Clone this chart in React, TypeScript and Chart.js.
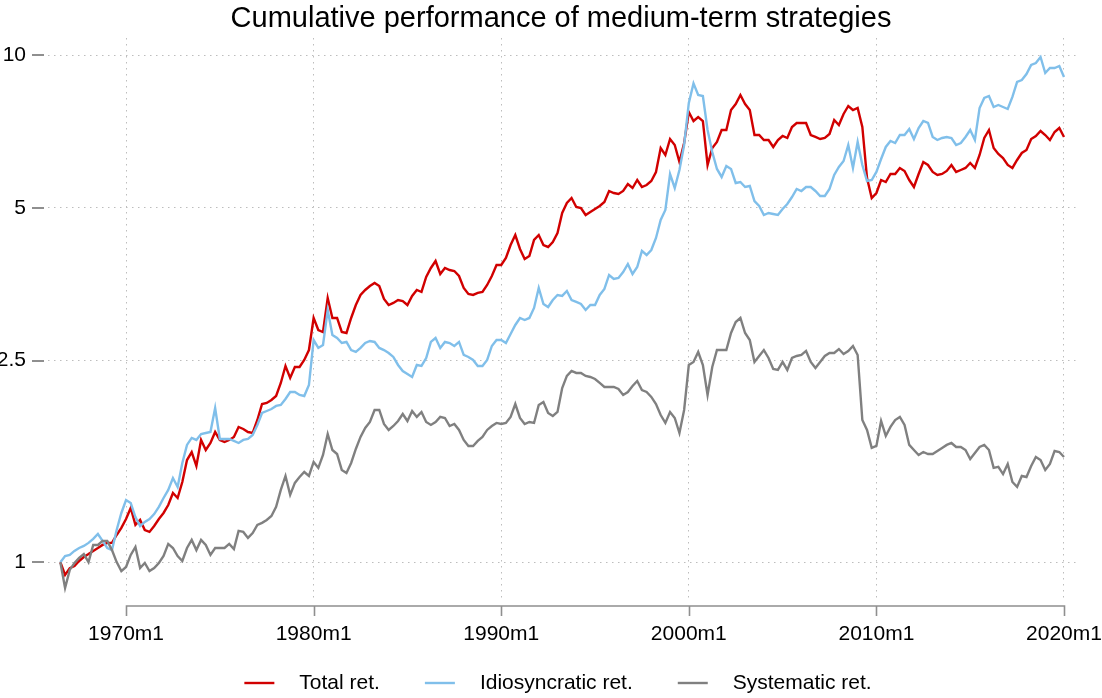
import React, { useEffect, useRef } from 'react';
import { Chart, registerables } from 'chart.js';

Chart.register(...registerables);

// ---- Data (quarterly readings, first point 1966m7) ----
const START_DATE = 1966.5;
const STEP = 0.25;

const TOTAL_RET = [
  1.00, 0.944,
  0.974, 0.983, 1.006, 1.024,
  1.038, 1.053, 1.067, 1.082,
  1.092, 1.092, 1.132, 1.169,
  1.217, 1.280, 1.185, 1.212,
  1.158, 1.148, 1.179, 1.217,
  1.251, 1.297, 1.370, 1.339,
  1.440, 1.591, 1.650, 1.549,
  1.743, 1.665, 1.719, 1.807,
  1.743, 1.727, 1.743, 1.767,
  1.849, 1.832, 1.807, 1.799,
  1.908, 2.052, 2.062, 2.090,
  2.128, 2.258, 2.439, 2.310,
  2.428, 2.428, 2.506, 2.622,
  3.033, 2.872, 2.846, 3.321,
  3.033, 3.033, 2.846, 2.833,
  3.033, 3.217, 3.367, 3.444,
  3.507, 3.555, 3.507, 3.306,
  3.217, 3.247, 3.291, 3.276,
  3.217, 3.352, 3.444, 3.413,
  3.654, 3.806, 3.929, 3.703,
  3.806, 3.771, 3.754, 3.670,
  3.476, 3.382, 3.367, 3.398,
  3.413, 3.523, 3.670, 3.858,
  3.858, 3.983, 4.225, 4.421,
  4.149, 3.965, 4.019, 4.322,
  4.421, 4.225, 4.187, 4.283,
  4.462, 4.886, 5.113, 5.230,
  5.021, 4.998, 4.841, 4.908,
  4.975, 5.044, 5.136, 5.399,
  5.350, 5.326, 5.399, 5.573,
  5.473, 5.675, 5.498, 5.548,
  5.650, 5.886, 6.564, 6.358,
  6.837, 6.653, 6.159, 6.714,
  7.729, 7.419, 7.556, 7.419,
  6.076, 6.564, 6.745, 7.122,
  7.122, 7.799, 8.015, 8.350,
  8.015, 7.799, 6.962, 6.962,
  6.806, 6.806, 6.593, 6.806,
  6.931, 6.868, 7.220, 7.353,
  7.353, 7.353, 6.962, 6.900,
  6.837, 6.868, 6.994, 7.453,
  7.286, 7.659, 7.942, 7.799,
  7.871, 7.220, 5.727, 5.230,
  5.350, 5.675, 5.624, 5.833,
  5.833, 5.994, 5.913, 5.675,
  5.498, 5.833, 6.159, 6.076,
  5.886, 5.806, 5.833, 5.913,
  6.076, 5.886, 5.939, 5.994,
  6.131, 5.994, 6.358, 6.868,
  7.122, 6.564, 6.387, 6.272,
  6.076, 5.994, 6.215, 6.416,
  6.504, 6.837, 6.931, 7.090,
  6.962, 6.806, 7.058, 7.188,
  6.900,
];

const IDIO_RET = [
  1.00, 1.029,
  1.034, 1.053, 1.067, 1.077,
  1.092, 1.112, 1.137, 1.102,
  1.067, 1.057, 1.158, 1.251,
  1.327, 1.309, 1.228, 1.179,
  1.201, 1.217, 1.245, 1.286,
  1.339, 1.389, 1.466, 1.408,
  1.570, 1.704, 1.759, 1.743,
  1.791, 1.799, 1.807, 2.015,
  1.751, 1.751, 1.751, 1.735,
  1.719, 1.743, 1.751, 1.783,
  1.866, 1.970, 1.988, 2.006,
  2.034, 2.043, 2.099, 2.167,
  2.167, 2.138, 2.128, 2.237,
  2.744, 2.647, 2.683, 3.145,
  2.807, 2.769, 2.707, 2.720,
  2.622, 2.599, 2.647, 2.707,
  2.732, 2.720, 2.647, 2.622,
  2.587, 2.541, 2.450, 2.384,
  2.352, 2.320, 2.450, 2.439,
  2.529, 2.720, 2.769, 2.647,
  2.720, 2.707, 2.671, 2.720,
  2.564, 2.541, 2.506, 2.439,
  2.439, 2.506, 2.671, 2.744,
  2.744, 2.707, 2.820, 2.938,
  3.033, 3.005, 3.033, 3.174,
  3.476, 3.232, 3.188, 3.291,
  3.367, 3.352, 3.428, 3.291,
  3.262, 3.232, 3.145, 3.217,
  3.217, 3.367, 3.460, 3.687,
  3.620, 3.637, 3.737, 3.876,
  3.704, 3.823, 4.112, 4.037,
  4.130, 4.362, 4.733, 4.953,
  5.830, 5.473, 5.940, 6.653,
  8.052, 8.800, 8.350, 8.312,
  7.122, 6.446, 5.967, 5.754,
  6.048, 5.967, 5.599, 5.624,
  5.498, 5.523, 5.159, 5.044,
  4.841, 4.886, 4.864, 4.841,
  4.975, 5.090, 5.254, 5.448,
  5.399, 5.498, 5.498, 5.399,
  5.278, 5.278, 5.448, 5.806,
  6.021, 6.187, 6.653, 5.994,
  6.745, 6.076, 5.650, 5.675,
  5.886, 6.244, 6.594, 6.775,
  6.714, 6.962, 6.962, 7.155,
  6.837, 7.188, 7.419, 7.353,
  6.900, 6.806, 6.868, 6.900,
  6.868, 6.653, 6.714, 6.900,
  7.122, 6.806, 7.871, 8.237,
  8.312, 7.906, 7.978, 7.906,
  7.835, 8.275, 8.858, 8.938,
  9.185, 9.568, 9.656, 9.922,
  9.227, 9.439, 9.439, 9.525,
  9.061,
];

const SYST_RET = [
  1.00, 0.890,
  0.966, 0.997, 1.020, 1.038,
  1.001, 1.082, 1.082, 1.102,
  1.102, 1.057, 1.001, 0.961,
  0.979, 1.034, 1.072, 0.974,
  0.997, 0.961, 0.974, 0.997,
  1.029, 1.087, 1.067, 1.029,
  1.006, 1.067, 1.107, 1.057,
  1.107, 1.082, 1.034, 1.067,
  1.067, 1.067, 1.087, 1.062,
  1.153, 1.148, 1.117, 1.142,
  1.185, 1.196, 1.212, 1.234,
  1.286, 1.389, 1.480, 1.358,
  1.434, 1.473, 1.507, 1.480,
  1.577, 1.535, 1.628, 1.791,
  1.665, 1.635, 1.521, 1.500,
  1.570, 1.673, 1.767, 1.840,
  1.891, 1.997, 1.997, 1.874,
  1.824, 1.857, 1.900, 1.961,
  1.900, 1.988, 1.935, 1.979,
  1.891, 1.866, 1.891, 1.935,
  1.926, 1.857, 1.874, 1.824,
  1.743, 1.696, 1.696, 1.735,
  1.767, 1.824, 1.857, 1.883,
  1.874, 1.883, 1.935, 2.052,
  1.926, 1.874, 1.891, 1.883,
  2.043, 2.071, 1.970, 1.943,
  1.979, 2.207, 2.331, 2.384,
  2.363, 2.363, 2.331, 2.320,
  2.299, 2.258, 2.217, 2.217,
  2.217, 2.197, 2.138, 2.167,
  2.227, 2.278, 2.187, 2.167,
  2.119, 2.052, 1.952, 1.883,
  1.979, 1.926, 1.799, 1.997,
  2.450, 2.484, 2.599, 2.450,
  2.138, 2.428, 2.622, 2.622,
  2.622, 2.833, 2.978, 3.033,
  2.833, 2.744, 2.484, 2.552,
  2.622, 2.529, 2.406, 2.395,
  2.484, 2.395, 2.529, 2.552,
  2.564, 2.611, 2.484, 2.417,
  2.484, 2.552, 2.587, 2.587,
  2.634, 2.575, 2.611, 2.671,
  2.564, 1.908, 1.824, 1.681,
  1.696, 1.900, 1.775, 1.849,
  1.908, 1.935, 1.866, 1.704,
  1.665, 1.628, 1.650, 1.635,
  1.635, 1.658, 1.681, 1.704,
  1.719, 1.688, 1.688, 1.665,
  1.599, 1.643, 1.688, 1.704,
  1.665, 1.535, 1.542, 1.493,
  1.563, 1.440, 1.408, 1.480,
  1.473, 1.549, 1.613, 1.591,
  1.521, 1.563, 1.658, 1.650,
  1.613,
];

const X_TICKS = [1970, 1980, 1990, 2000, 2010, 2020];
const Y_TICKS = [1, 2.5, 5, 10];
const Y_TICK_LABELS = ['1', '2.5', '5', '10'];
const SERIES_NAMES = ['Total ret.', 'Idiosyncratic ret.', 'Systematic ret.'];
const SERIES_COLORS = ['#d10000', '#80bfea', '#808080'];
const TITLE = 'Cumulative performance of medium-term strategies';

// ---- Styling ----
const FONT = '"Liberation Sans", Arial, Helvetica, sans-serif';
const W = 1102;
const H = 698;
const GRID_COLOR = '#bdbdbd';
const AXIS_COLOR = '#8f8f8f';
const X_MIN = 1965.84;
const X_MAX = 2020.853;
const Y_MIN = 0.8426;
const Y_MAX = 10.816;

const toPoints = (vals: number[]) =>
  vals.map((v, i) => ({ x: START_DATE + i * STEP, y: v }));

const decorPlugin = {
  id: 'decor',
  afterDraw(chart: any) {
    const { ctx, chartArea, scales } = chart;
    const xs = scales.x;
    const ys = scales.y;
    ctx.save();
    // x axis line + ticks
    const axisY = chartArea.bottom + 6;
    const xa = xs.getPixelForValue(X_TICKS[0]);
    const xb = xs.getPixelForValue(X_TICKS[X_TICKS.length - 1]);
    ctx.strokeStyle = AXIS_COLOR;
    ctx.lineWidth = 1.6;
    ctx.beginPath();
    ctx.moveTo(xa, axisY);
    ctx.lineTo(xb, axisY);
    X_TICKS.forEach((t) => {
      const px = Math.round(xs.getPixelForValue(t)) + 0.5;
      ctx.moveTo(px, axisY - 0.8);
      ctx.lineTo(px, axisY + 10);
    });
    ctx.stroke();
    // y ticks
    ctx.lineWidth = 2;
    ctx.beginPath();
    Y_TICKS.forEach((t) => {
      const py = Math.round(ys.getPixelForValue(t));
      ctx.moveTo(chartArea.left - 16, py);
      ctx.lineTo(chartArea.left - 4, py);
    });
    ctx.stroke();
    // title
    ctx.fillStyle = '#000';
    ctx.font = `29px ${FONT}`;
    ctx.textAlign = 'center';
    ctx.textBaseline = 'middle';
    ctx.fillText(TITLE, 561, 19);
    // legend
    ctx.font = `21px ${FONT}`;
    const lineLen = 30;
    const gapText = 25;
    const gapItem = 45;
    const widths = SERIES_NAMES.map((n) => ctx.measureText(n).width);
    const total =
      widths.reduce((a, b) => a + b, 0) +
      SERIES_NAMES.length * (lineLen + gapText) +
      (SERIES_NAMES.length - 1) * gapItem;
    let cx = 558 - total / 2;
    const ly = 683;
    ctx.textAlign = 'left';
    SERIES_NAMES.forEach((n, i) => {
      ctx.strokeStyle = SERIES_COLORS[i];
      ctx.lineWidth = 2.4;
      ctx.beginPath();
      ctx.moveTo(cx, ly);
      ctx.lineTo(cx + lineLen, ly);
      ctx.stroke();
      cx += lineLen + gapText;
      ctx.fillStyle = '#000';
      ctx.fillText(n, cx, ly);
      cx += widths[i] + gapItem;
    });
    ctx.restore();
  },
};

export default function App() {
  const ref = useRef<HTMLCanvasElement | null>(null);

  useEffect(() => {
    if (!ref.current) return;
    const series = [TOTAL_RET, IDIO_RET, SYST_RET];
    const chart = new Chart(ref.current, {
      type: 'line',
      data: {
        datasets: series.map((vals, i) => ({
          label: SERIES_NAMES[i],
          data: toPoints(vals),
          borderColor: SERIES_COLORS[i],
          backgroundColor: SERIES_COLORS[i],
          borderWidth: 2.4,
          pointRadius: 0,
          tension: 0,
          fill: false,
          order: 2 - i,
        })),
      },
      options: {
        responsive: false,
        animation: false,
        events: [],
        layout: { padding: { left: 0, right: 22, top: 38, bottom: 0 } },
        plugins: {
          legend: { display: false },
          title: { display: false },
          tooltip: { enabled: false },
        },
        scales: {
          x: {
            type: 'linear',
            min: X_MIN,
            max: X_MAX,
            afterBuildTicks: (s: any) => {
              s.ticks = X_TICKS.map((v) => ({ value: v }));
            },
            afterFit: (s: any) => {
              s.height = 98;
              s.paddingLeft = 0;
              s.paddingRight = 0;
            },
            ticks: {
              autoSkip: false,
              maxRotation: 0,
              padding: 22,
              color: '#000',
              font: { family: FONT, size: 21 },
              callback: (v: any) => `${v}m1`,
            },
            grid: {
              color: GRID_COLOR,
              lineWidth: 1,
              drawTicks: false,
            },
            border: { display: false, dash: [1.5, 4.5] },
          },
          y: {
            type: 'logarithmic',
            min: Y_MIN,
            max: Y_MAX,
            afterBuildTicks: (s: any) => {
              s.ticks = Y_TICKS.map((v) => ({ value: v }));
            },
            afterFit: (s: any) => {
              s.width = 48;
              s.paddingTop = 0;
              s.paddingBottom = 0;
            },
            ticks: {
              autoSkip: false,
              padding: 22,
              color: '#000',
              font: { family: FONT, size: 21 },
              callback: (v: any) => {
                const idx = Y_TICKS.indexOf(Number(v));
                return idx >= 0 ? Y_TICK_LABELS[idx] : '';
              },
            },
            grid: {
              color: GRID_COLOR,
              lineWidth: 1,
              drawTicks: false,
            },
            border: { display: false, dash: [1.5, 4.5] },
          },
        },
      },
      plugins: [decorPlugin],
    });
    return () => chart.destroy();
  }, []);

  return (
    <canvas
      ref={ref}
      width={W}
      height={H}
      style={{ position: 'absolute', left: 0, top: 0, display: 'block', background: '#fff' }}
    />
  );
}
